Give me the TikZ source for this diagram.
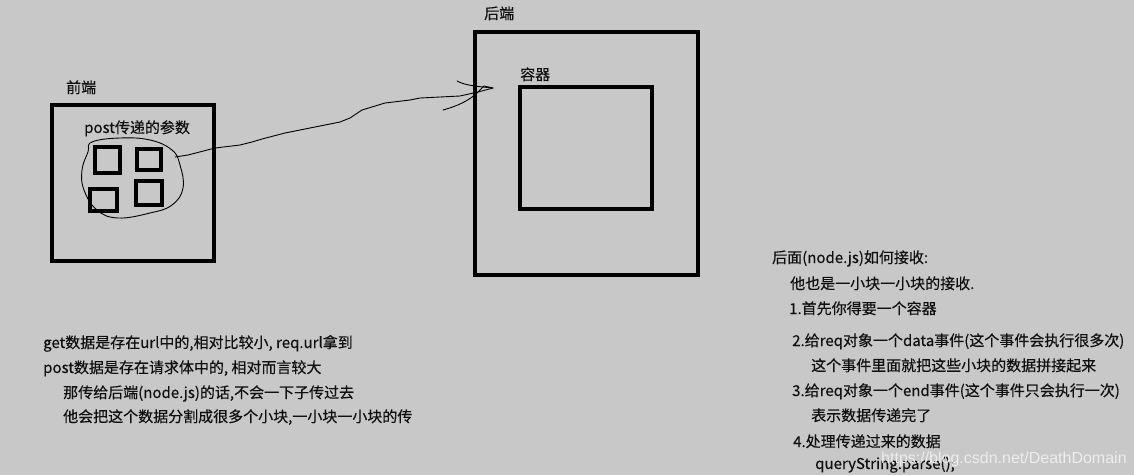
\documentclass[tikz,border=0pt]{standalone}
\usepackage{fontspec}
\newfontfamily\cjk[FakeBold=0.4]{Noto Sans CJK SC}
\newfontfamily\wmfont{Liberation Sans}
\definecolor{bg}{HTML}{C8C8C8}
\definecolor{ink}{HTML}{101010}
\definecolor{wm}{HTML}{EDEDED}
\begin{document}
\begin{tikzpicture}[x=1pt,y=-1pt,
  txt/.style={font=\cjk\fontsize{15}{18}\selectfont, text=ink, anchor=base west, inner sep=0pt},
  bigbox/.style={draw=black, line width=4.5pt},
  smallbox/.style={draw=black, line width=4pt},
  hand/.style={draw=black, line width=0.9pt, line cap=round, line join=round}]
\useasboundingbox[fill=bg] (0,0) rectangle (1134,475);

% front end
\node[txt] (fe) at (66,93) {前端};
\draw[bigbox] (52,105) rectangle (214,261);
\node[txt] (pp) at (84,133) {post传递的参数};
\draw[smallbox] (95,147) rectangle (120,173);
\draw[smallbox] (137,149) rectangle (161,170);
\draw[smallbox] (90,189) rectangle (117,211);
\draw[smallbox] (136,181) rectangle (162,205);
\draw[hand] plot[smooth cycle, tension=0.7] coordinates {(92,142) (120,138) (150,140) (172,150) (180,165) (183,188) (172,205) (150,213) (118,218) (97,210) (84,190) (82,170) (88,152)};

% back end
\node[txt] (be) at (484,19) {后端};
\draw[bigbox] (475,32) rectangle (698,275);
\node[txt] (ct) at (520,80) {容器};
\draw[bigbox] (520,87) rectangle (652,209);

% connector
\coordinate (blob) at (175,157);
\coordinate (tip) at (493,88);
\draw[hand] (blob) -- (188,155) -- (215,148) -- (240,145) -- (252,142) -- (262,139) -- (285,133) -- (310,128) -- (340,122) -- (350,118) -- (362,110) -- (385,103) -- (410,100) -- (420,98) -- (460,96) -- (478,92) -- (tip);
\draw[hand] (457,81) .. controls (465,85) and (472,86) .. (tip);
\draw[hand] (443,110) .. controls (458,106) and (470,100) .. (478,92) -- (484,86) -- (tip);

% left text
\node[txt] (l1) at (43,348) {get数据是存在url中的,相对比较小, req.url拿到};
\node[txt] (l2) at (43,373) {post数据是存在请求体中的, 相对而言较大};
\node[txt] (l3) at (63,398) {那传给后端(node.js)的话,不会一下子传过去};
\node[txt] (l4) at (63,422) {他会把这个数据分割成很多个小块,一小块一小块的传};

% right text
\node[txt] (r1) at (772,263) {后面(node.js)如何接收:};
\node[txt] (r2) at (790,289) {他也是一小块一小块的接收.};
\node[txt] (r3) at (789,314) {1.首先你得要一个容器};
\node[txt] (r4) at (792,346) {2.给req对象一个data事件(这个事件会执行很多次)};
\node[txt] (r5) at (811,371) {这个事件里面就把这些小块的数据拼接起来};
\node[txt] (r6) at (792,396) {3.给req对象一个end事件(这个事件只会执行一次)};
\node[txt] (r7) at (811,421) {表示数据传递完了};
\node[txt] (r8) at (793,447) {4.处理传递过来的数据};
\node[txt] (r9) at (815,469) {queryString.parse();};

% watermark
\node[font=\wmfont\fontsize{16}{18}\selectfont, text=wm, anchor=base west, inner sep=0pt] (wmk) at (881,463) {https://blog.csdn.net/DeathDomain};
\end{tikzpicture}
\end{document}
